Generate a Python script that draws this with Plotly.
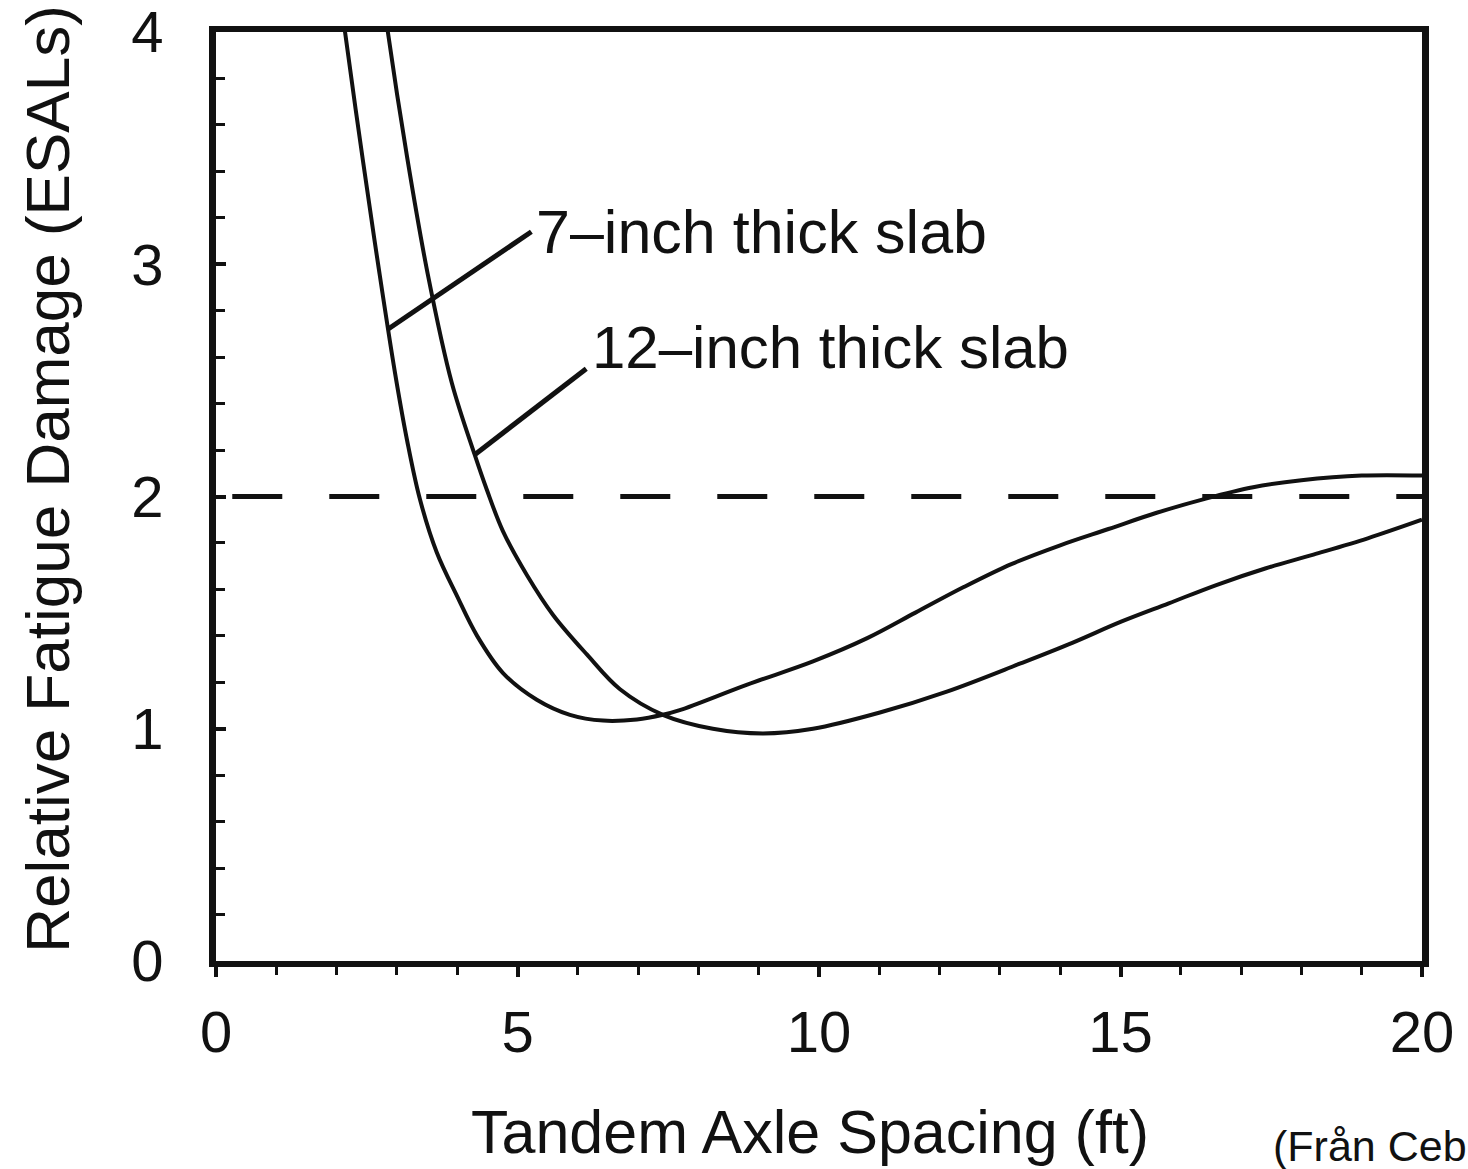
import plotly.graph_objects as go

# ---- data ----
spacing_7in = [2.05, 2.14, 2.44, 2.70, 2.97, 3.17, 3.38, 3.66, 4.00, 4.33, 4.76, 5.32, 5.87,
               6.42, 6.98, 7.41, 7.69, 8.81, 9.90, 10.80, 11.60, 12.40, 13.20,
               14.00, 14.80, 15.60, 16.40, 17.20, 18.00, 19.00, 20.00]
damage_7in = [4.20, 4.00, 3.44, 2.98, 2.53, 2.24, 1.99, 1.76, 1.57, 1.40, 1.24, 1.125, 1.06,
              1.035, 1.04, 1.06, 1.08, 1.19, 1.29, 1.39, 1.50, 1.61, 1.71,
              1.79, 1.86, 1.93, 1.99, 2.04, 2.07, 2.09, 2.09]

spacing_12in = [2.75, 2.85, 3.17, 3.51, 3.91, 4.29, 4.49, 4.76, 5.16, 5.59, 6.15, 6.70,
                7.41, 8.24, 9.07, 9.90, 11.01, 12.12, 13.33, 14.20, 15.00, 15.80,
                16.60, 17.40, 18.20, 19.10, 20.00]
damage_12in = [4.20, 4.00, 3.46, 2.96, 2.49, 2.18, 2.03, 1.85, 1.66, 1.49, 1.32, 1.17,
               1.06, 1.00, 0.98, 1.00, 1.07, 1.16, 1.28, 1.37, 1.46, 1.54,
               1.62, 1.69, 1.75, 1.82, 1.90]

reference_level = 2.0
x_tick_values = [0, 5, 10, 15, 20]
x_tick_labels = ["0", "5", "10", "15", "20"]
y_tick_values = [0, 1, 2, 3, 4]
y_tick_labels = ["0", "1", "2", "3", "4"]
label_7in = "7\u2013inch thick slab"
label_12in = "12\u2013inch thick slab"
x_title = "Tandem Axle Spacing (ft)"
y_title = "Relative Fatigue Damage (ESALs)"
source_note = "(Från Ceb"

FONT = "Liberation Sans, Arial, Helvetica, sans-serif"
BLACK = "#111111"

fig = go.Figure()

for xs, ys in ((spacing_7in, damage_7in), (spacing_12in, damage_12in)):
    fig.add_trace(go.Scatter(x=xs, y=ys, mode="lines",
                             line=dict(color=BLACK, width=4, shape="spline", smoothing=1.0),
                             showlegend=False, hoverinfo="skip"))

# dashed reference line
fig.add_shape(type="line", xref="x", yref="y", x0=0.27, x1=20, y0=reference_level, y1=reference_level,
              line=dict(color=BLACK, width=5, dash="50px,47px"))

# leader lines
fig.add_shape(type="line", xref="x", yref="y", x0=2.85, y0=2.72, x1=5.23, y1=3.14,
              line=dict(color=BLACK, width=5))
fig.add_shape(type="line", xref="x", yref="y", x0=4.29, y0=2.18, x1=6.14, y1=2.55,
              line=dict(color=BLACK, width=5))

fig.add_annotation(x=5.28, y=3.14, xref="x", yref="y", text=label_7in, showarrow=False,
                   xanchor="left", yanchor="middle", font=dict(family=FONT, size=61, color=BLACK))
fig.add_annotation(x=6.20, y=2.64, xref="x", yref="y", text=label_12in, showarrow=False,
                   xanchor="left", yanchor="middle", font=dict(family=FONT, size=60, color=BLACK))

# axis titles
fig.add_annotation(x=0.4925, y=-0.1843, xref="paper", yref="paper", text=x_title, showarrow=False,
                   xanchor="center", yanchor="middle", font=dict(family=FONT, size=61, color=BLACK))
fig.add_annotation(x=-0.1393, y=0.519, xref="paper", yref="paper", text=y_title, showarrow=False,
                   textangle=-90, xanchor="center", yanchor="middle",
                   font=dict(family=FONT, size=62, color=BLACK))

fig.add_annotation(x=0.875, y=-0.171, xref="paper", yref="paper", text=source_note, showarrow=False,
                   xanchor="left", yanchor="top", font=dict(family=FONT, size=43, color=BLACK))

fig.update_xaxes(range=[0, 20], tickvals=x_tick_values, ticktext=x_tick_labels,
                 showgrid=False, zeroline=False, showline=True, linecolor=BLACK, linewidth=6,
                 mirror=True, ticks="outside", ticklen=10, tickwidth=4, tickcolor=BLACK,
                 minor=dict(dtick=1, ticks="outside", ticklen=8, tickwidth=3, tickcolor=BLACK, showgrid=False),
                 tickfont=dict(family=FONT, size=58, color=BLACK), ticklabelstandoff=5,
                 ticklabeloverflow="allow")
fig.update_yaxes(range=[0, 4], tickvals=y_tick_values, ticktext=y_tick_labels,
                 showgrid=False, zeroline=False, showline=True, linecolor=BLACK, linewidth=7,
                 mirror=True, ticks="inside", ticklen=10, tickwidth=4, tickcolor=BLACK,
                 minor=dict(dtick=0.2, ticks="inside", ticklen=9, tickwidth=3, tickcolor=BLACK, showgrid=False),
                 tickfont=dict(family=FONT, size=58, color=BLACK), ticklabelstandoff=34,
                 ticklabeloverflow="allow")

fig.update_layout(width=1468, height=1169, autosize=False,
                  margin=dict(l=216, r=46, t=32, b=208, autoexpand=False),
                  paper_bgcolor="white", plot_bgcolor="white")

fig.write_html("out.html")
